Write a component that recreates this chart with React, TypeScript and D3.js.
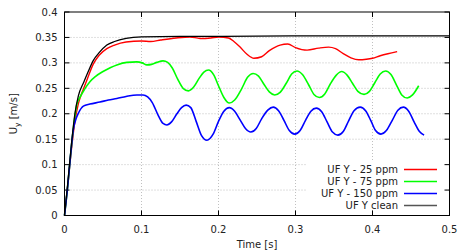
import * as d3 from "d3";

type Pt = [number, number];

const xTicks = [0, 0.1, 0.2, 0.3, 0.4, 0.5];
const yTicks = [0, 0.05, 0.1, 0.15, 0.2, 0.25, 0.3, 0.35, 0.4];

const red25: Pt[] = [
  [0, 0], [0.004, 0.055], [0.009, 0.13], [0.0135, 0.185], [0.018, 0.22], [0.025, 0.25],
  [0.03, 0.27], [0.0375, 0.298], [0.045, 0.315], [0.055, 0.328], [0.065, 0.335], [0.08, 0.341],
  [0.1, 0.343], [0.112, 0.342], [0.125, 0.345], [0.145, 0.349], [0.163, 0.351], [0.176, 0.348],
  [0.19, 0.349], [0.2, 0.351], [0.213, 0.349], [0.22, 0.342], [0.228, 0.331], [0.237, 0.317],
  [0.246, 0.309], [0.256, 0.312], [0.266, 0.324], [0.28, 0.335], [0.29, 0.337], [0.3, 0.33],
  [0.315, 0.325], [0.33, 0.329], [0.343, 0.331], [0.352, 0.328], [0.362, 0.318], [0.372, 0.31],
  [0.382, 0.306], [0.392, 0.307], [0.4, 0.309], [0.41, 0.314], [0.42, 0.318], [0.432, 0.322],
];

const green75: Pt[] = [
  [0, 0], [0.004, 0.055], [0.008, 0.12], [0.0114, 0.17], [0.014, 0.2], [0.016, 0.218],
  [0.02, 0.232], [0.026, 0.248], [0.033, 0.263], [0.04, 0.273], [0.05, 0.283], [0.06, 0.291],
  [0.068, 0.296], [0.081, 0.301], [0.094, 0.302], [0.101, 0.3], [0.107, 0.296], [0.113, 0.297],
  [0.12, 0.301], [0.128, 0.304], [0.134, 0.301], [0.14, 0.29], [0.147, 0.268], [0.154, 0.25],
  [0.161, 0.245], [0.168, 0.253], [0.175, 0.27], [0.181, 0.282], [0.187, 0.286], [0.194, 0.276],
  [0.2, 0.255], [0.207, 0.232], [0.214, 0.221], [0.221, 0.227], [0.23, 0.249], [0.238, 0.272],
  [0.245, 0.279], [0.252, 0.274], [0.259, 0.258], [0.266, 0.243], [0.273, 0.237], [0.28, 0.242],
  [0.288, 0.26], [0.295, 0.278], [0.302, 0.284], [0.309, 0.277], [0.317, 0.257], [0.324, 0.238],
  [0.331, 0.232], [0.338, 0.239], [0.345, 0.258], [0.353, 0.276], [0.36, 0.283], [0.367, 0.276],
  [0.374, 0.26], [0.381, 0.244], [0.389, 0.238], [0.396, 0.244], [0.403, 0.261], [0.41, 0.278],
  [0.417, 0.284], [0.424, 0.277], [0.431, 0.257], [0.438, 0.237], [0.445, 0.231], [0.452, 0.237],
  [0.46, 0.255],
];

const blue150: Pt[] = [
  [0, 0], [0.004, 0.055], [0.008, 0.12], [0.0114, 0.168], [0.015, 0.19], [0.018, 0.201],
  [0.0245, 0.215], [0.033, 0.219], [0.046, 0.223], [0.057, 0.227], [0.068, 0.23], [0.08, 0.234],
  [0.094, 0.237], [0.102, 0.237], [0.108, 0.233], [0.114, 0.222], [0.122, 0.196], [0.128, 0.181],
  [0.133, 0.178], [0.139, 0.184], [0.146, 0.2], [0.152, 0.212], [0.158, 0.217], [0.164, 0.212],
  [0.171, 0.185], [0.178, 0.157], [0.185, 0.148], [0.193, 0.16], [0.2, 0.185], [0.207, 0.205],
  [0.214, 0.212], [0.221, 0.205], [0.228, 0.188], [0.235, 0.171], [0.242, 0.164], [0.249, 0.171],
  [0.256, 0.19], [0.264, 0.207], [0.271, 0.213], [0.278, 0.206], [0.285, 0.187], [0.292, 0.167],
  [0.299, 0.16], [0.306, 0.167], [0.313, 0.187], [0.32, 0.205], [0.327, 0.211], [0.334, 0.204],
  [0.341, 0.184], [0.348, 0.164], [0.355, 0.158], [0.362, 0.165], [0.369, 0.186], [0.376, 0.206],
  [0.384, 0.213], [0.391, 0.206], [0.398, 0.186], [0.404, 0.167], [0.411, 0.16], [0.418, 0.167],
  [0.426, 0.188], [0.433, 0.207], [0.44, 0.213], [0.447, 0.205], [0.454, 0.184], [0.461, 0.165],
  [0.467, 0.158],
];

const clean: Pt[] = [
  [0, 0], [0.004, 0.06], [0.009, 0.14], [0.0135, 0.2], [0.018, 0.235], [0.025, 0.262],
  [0.03, 0.28], [0.0375, 0.305], [0.045, 0.32], [0.055, 0.335], [0.065, 0.342], [0.08, 0.348],
  [0.1, 0.351], [0.15, 0.352], [0.2, 0.352], [0.3, 0.353], [0.4, 0.353], [0.5, 0.353],
];

const series = [
  { label: "UF Y - 25 ppm", color: "#ff0000", data: red25, width: 1.4 },
  { label: "UF Y - 75 ppm", color: "#00ff00", data: green75, width: 1.6 },
  { label: "UF Y - 150 ppm", color: "#0000ff", data: blue150, width: 1.6 },
  { label: "UF Y clean", color: "#000000", data: clean, width: 1.3 },
];

const W = 459;
const H = 251;
const L = 64.5, R = 449.5, T = 12, B = 215.5;
const font = "'DejaVu Sans', sans-serif";

export default function App() {
  const x = d3.scaleLinear().domain([0, 0.5]).range([L, R]);
  const y = d3.scaleLinear().domain([0, 0.4]).range([B, T]);
  const line = d3
    .line<Pt>()
    .x((d) => x(d[0]))
    .y((d) => y(d[1]))
    .curve(d3.curveMonotoneX);

  const fmt = (v: number) => String(+v.toFixed(2));

  return (
    <svg
      width={W}
      height={H}
      style={{ position: "absolute", left: 0, top: 0, background: "#fff" }}
      fontFamily={font}
      fontSize={10}
    >
      {/* grid */}
      {yTicks.slice(1, -1).map((v) => (
        <line key={"gy" + v} x1={L} x2={R} y1={y(v)} y2={y(v)} stroke="#b0b0b0" strokeWidth={0.8} strokeDasharray="1,2" />
      ))}
      {xTicks.slice(1, -1).map((v) => (
        <line key={"gx" + v} x1={x(v)} x2={x(v)} y1={T} y2={B} stroke="#b0b0b0" strokeWidth={0.8} strokeDasharray="1,2" />
      ))}

      {/* legend backdrop */}
      <rect x={306} y={162} width={140} height={48} fill="#fff" />

      {/* ticks */}
      {yTicks.map((v) => (
        <g key={"ty" + v}>
          <line x1={L} x2={L + 5} y1={y(v)} y2={y(v)} stroke="#000" />
          <line x1={R} x2={R - 5} y1={y(v)} y2={y(v)} stroke="#000" />
          <text x={57.5} y={y(v)} dy="0.35em" textAnchor="end" fill="#222">{fmt(v)}</text>
        </g>
      ))}
      {xTicks.map((v) => (
        <g key={"tx" + v}>
          <line x1={x(v)} x2={x(v)} y1={B} y2={B - 5} stroke="#000" />
          <line x1={x(v)} x2={x(v)} y1={T} y2={T + 5} stroke="#000" />
          <text x={x(v)} y={232.5} textAnchor="middle" fill="#222">{fmt(v)}</text>
        </g>
      ))}

      {/* curves */}
      {series.map((s) => (
        <path key={s.label} d={line(s.data) || ""} fill="none" stroke={s.color} strokeWidth={s.width} strokeLinejoin="round" />
      ))}

      {/* frame */}
      <rect x={L} y={T} width={R - L} height={B - T} fill="none" stroke="#000" strokeWidth={1} />

      {/* legend */}
      {series.map((s, i) => (
        <g key={"lg" + s.label}>
          <text x={398} y={169.5 + i * 12} dy="0.35em" textAnchor="end" fill="#222">{s.label}</text>
          <line x1={404} x2={437} y1={169.5 + i * 12} y2={169.5 + i * 12} stroke={s.color === "#000000" ? "#555" : s.color} strokeWidth={1.3} />
        </g>
      ))}

      {/* axis labels */}
      <text x={257} y={247.5} textAnchor="middle" fill="#222">Time [s]</text>
      <text transform={`translate(17,${(T + B) / 2}) rotate(-90)`} textAnchor="middle" fill="#222">
        U<tspan fontSize={7.5} dy={2.5}>y</tspan>
        <tspan dy={-2.5}> [m/s]</tspan>
      </text>
    </svg>
  );
}
